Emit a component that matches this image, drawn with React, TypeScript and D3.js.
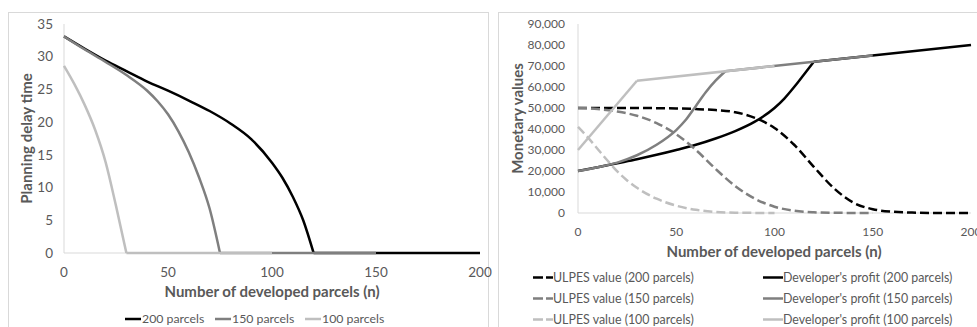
import React from "react";
import * as d3 from "d3";

// ---- left chart: planning delay time ----
const delayN200 = [0, 10, 20, 30, 40, 50, 60, 70, 80, 90, 100, 105, 110, 115, 120, 200];
const delay200 = [33.1, 31.2, 29.4, 27.8, 26.2, 24.8, 23.3, 21.7, 19.8, 17.4, 13.8, 11.5, 8.6, 5.0, 0, 0];
const delayN150 = [0, 10, 20, 30, 40, 45, 50, 55, 60, 65, 70, 75, 150];
const delay150 = [33.1, 31.1, 29.2, 27.2, 24.8, 23.2, 21.2, 18.6, 15.4, 11.5, 6.8, 0, 0];
const delayN100 = [0, 5, 10, 15, 20, 25, 30, 100];
const delay100 = [28.6, 25.8, 22.6, 18.8, 13.9, 7.2, 0, 0];
const delayTicks = [0, 5, 10, 15, 20, 25, 30, 35];

// ---- right chart: monetary values ----
const ulpesN200 = [0, 25, 50, 60, 70, 80, 90, 100, 110, 120, 130, 140, 150, 160, 170, 180, 200];
const ulpes200 = [50000, 50000, 49800, 49500, 49000, 48000, 45300, 40500, 32500, 22000, 12000, 5000, 1800, 600, 200, 50, 0];
const ulpesN150 = [0, 10, 20, 30, 40, 50, 60, 70, 80, 90, 100, 110, 120, 130, 150];
const ulpes150 = [50000, 49500, 48300, 46300, 42800, 37500, 30000, 21000, 12800, 6800, 3000, 1100, 350, 100, 0];
const ulpesN100 = [0, 5, 10, 15, 20, 25, 30, 40, 50, 60, 70, 80, 100];
const ulpes100 = [41000, 36000, 30500, 25000, 19800, 15500, 12000, 6800, 3500, 1500, 500, 150, 0];
const profitN200 = [0, 10, 20, 30, 40, 50, 60, 70, 80, 90, 100, 105, 110, 115, 120, 200];
const profit200 = [20000, 21800, 23700, 25600, 27700, 30000, 32500, 35500, 39000, 43500, 50000, 54500, 60000, 66000, 72000, 80000];
const profitN150 = [0, 10, 20, 30, 40, 50, 55, 60, 65, 70, 75, 150];
const profit150 = [20000, 21800, 24000, 27500, 32500, 39500, 44500, 51000, 57500, 63000, 67500, 75000];
const profitN100 = [0, 30, 100];
const profit100 = [30000, 63000, 70000];
const moneyTicks = [0, 10000, 20000, 30000, 40000, 50000, 60000, 70000, 80000, 90000];

const parcelTicks = [0, 50, 100, 150, 200];

const BLACK = "#000000";
const GRAY = "#7f7f7f";
const LIGHT = "#bfbfbf";
const TEXT = "#595959";
const AXIS = "#d9d9d9";
const FONT = "Lato, 'Open Sans', sans-serif";

type Series = {
  label: string;
  n: number[];
  v: number[];
  bend: number; // after this n the line runs straight
  color: string;
  dashed?: boolean;
};

const delaySeries: Series[] = [
  { label: "200 parcels", n: delayN200, v: delay200, bend: 120, color: BLACK },
  { label: "150 parcels", n: delayN150, v: delay150, bend: 75, color: GRAY },
  { label: "100 parcels", n: delayN100, v: delay100, bend: 30, color: LIGHT },
];

const moneySeries: Series[] = [
  { label: "ULPES value (200 parcels)", n: ulpesN200, v: ulpes200, bend: 200, color: BLACK, dashed: true },
  { label: "Developer's profit (200 parcels)", n: profitN200, v: profit200, bend: 120, color: BLACK },
  { label: "ULPES value (150 parcels)", n: ulpesN150, v: ulpes150, bend: 150, color: GRAY, dashed: true },
  { label: "Developer's profit (150 parcels)", n: profitN150, v: profit150, bend: 75, color: GRAY },
  { label: "ULPES value (100 parcels)", n: ulpesN100, v: ulpes100, bend: 100, color: LIGHT, dashed: true },
  { label: "Developer's profit (100 parcels)", n: profitN100, v: profit100, bend: 30, color: LIGHT },
];

function Lines({ series, x, y }: { series: Series[]; x: any; y: any }) {
  const curved = d3
    .line<[number, number]>()
    .x((d) => x(d[0]))
    .y((d) => y(d[1]))
    .curve(d3.curveMonotoneX);
  const straight = d3
    .line<[number, number]>()
    .x((d) => x(d[0]))
    .y((d) => y(d[1]));
  return (
    <g>
      {series.map((s) => {
        const pts: [number, number][] = s.n.map((n, i) => [n, s.v[i]]);
        const k = pts.findIndex((p) => p[0] === s.bend);
        const head = pts.slice(0, k + 1);
        const tail = pts.slice(k);
        const common = {
          fill: "none",
          stroke: s.color,
          strokeWidth: 2.5,
          strokeDasharray: s.dashed ? "9,4" : undefined,
        };
        return (
          <g key={s.label}>
            <path d={curved(head) || ""} {...common} />
            {tail.length > 1 && <path d={straight(tail) || ""} {...common} />}
          </g>
        );
      })}
    </g>
  );
}

function DelayChart() {
  const x = d3.scaleLinear().domain([0, 200]).range([64, 480]);
  const y = d3.scaleLinear().domain([0, 35]).range([253, 24]);
  const legendX = [125, 215, 305];
  return (
    <g fontFamily={FONT}>
      <rect x={8.5} y={12.5} width={480} height={330} fill="#fff" stroke={AXIS} />
      <line x1={x(0)} x2={x(0)} y1={y(35)} y2={y(0)} stroke={AXIS} />
      <line x1={x(0)} x2={x(200)} y1={y(0)} y2={y(0)} stroke={AXIS} />
      {delayTicks.map((t) => (
        <text key={t} x={53} y={y(t)} dy="0.35em" textAnchor="end" fontSize={13.5} fill={TEXT}>
          {t}
        </text>
      ))}
      {parcelTicks.map((t) => (
        <text key={t} x={x(t)} y={272} dy="0.35em" textAnchor="middle" fontSize={13.5} fill={TEXT}>
          {t}
        </text>
      ))}
      <Lines series={delaySeries} x={x} y={y} />
      <text x={272} y={292} dy="0.35em" textAnchor="middle" fontSize={15} fontWeight="bold" fill={TEXT}>
        Number of developed parcels (n)
      </text>
      <text
        transform={`translate(27,${(y(0) + y(35)) / 2}) rotate(-90)`}
        dy="0.35em"
        textAnchor="middle"
        fontSize={15}
        fontWeight="bold"
        fill={TEXT}
      >
        Planning delay time
      </text>
      {delaySeries.map((s, i) => (
        <g key={s.label} transform={`translate(${legendX[i]},319)`}>
          <line x1={0} x2={16} y1={0} y2={0} stroke={s.color} strokeWidth={2.5} />
          <text x={17} dy="0.35em" fontSize={12.3} fill={TEXT}>
            {s.label}
          </text>
        </g>
      ))}
    </g>
  );
}

function MoneyChart() {
  const x = d3.scaleLinear().domain([0, 200]).range([578, 971]);
  const y = d3.scaleLinear().domain([0, 90000]).range([213, 24]);
  const fmt = d3.format(",");
  const colX = [533, 763];
  const rowY = [277.5, 298.5, 319.5];
  return (
    <g fontFamily={FONT}>
      <rect x={498.5} y={12.5} width={490} height={330} fill="#fff" stroke={AXIS} />
      <line x1={x(0)} x2={x(0)} y1={y(90000)} y2={y(0)} stroke={AXIS} />
      <line x1={x(0)} x2={x(200)} y1={y(0)} y2={y(0)} stroke={AXIS} />
      {moneyTicks.map((t) => (
        <text key={t} x={565} y={y(t)} dy="0.35em" textAnchor="end" fontSize={12} fill={TEXT}>
          {fmt(t)}
        </text>
      ))}
      {parcelTicks.map((t) => (
        <text key={t} x={x(t)} y={232} dy="0.35em" textAnchor="middle" fontSize={12} fill={TEXT}>
          {t}
        </text>
      ))}
      <Lines series={moneySeries} x={x} y={y} />
      <text x={774} y={252} dy="0.35em" textAnchor="middle" fontSize={15} fontWeight="bold" fill={TEXT}>
        Number of developed parcels (n)
      </text>
      <text
        transform={`translate(518,${(y(0) + y(90000)) / 2}) rotate(-90)`}
        dy="0.35em"
        textAnchor="middle"
        fontSize={15}
        fontWeight="bold"
        fill={TEXT}
      >
        Monetary values
      </text>
      {moneySeries.map((s, i) => (
        <g key={s.label} transform={`translate(${colX[i % 2]},${rowY[Math.floor(i / 2)]})`}>
          <line
            x1={0}
            x2={20}
            y1={0}
            y2={0}
            stroke={s.color}
            strokeWidth={2.5}
            strokeDasharray={s.dashed ? "10,3" : undefined}
          />
          <text x={20} dy="0.35em" fontSize={12.4} fill={TEXT}>
            {s.label}
          </text>
        </g>
      ))}
    </g>
  );
}

export default function App() {
  return (
    <div style={{ position: "absolute", left: 0, top: 0 }}>
      <svg width={977} height={327} style={{ display: "block", background: "#fff" }}>
        <DelayChart />
        <MoneyChart />
      </svg>
    </div>
  );
}
